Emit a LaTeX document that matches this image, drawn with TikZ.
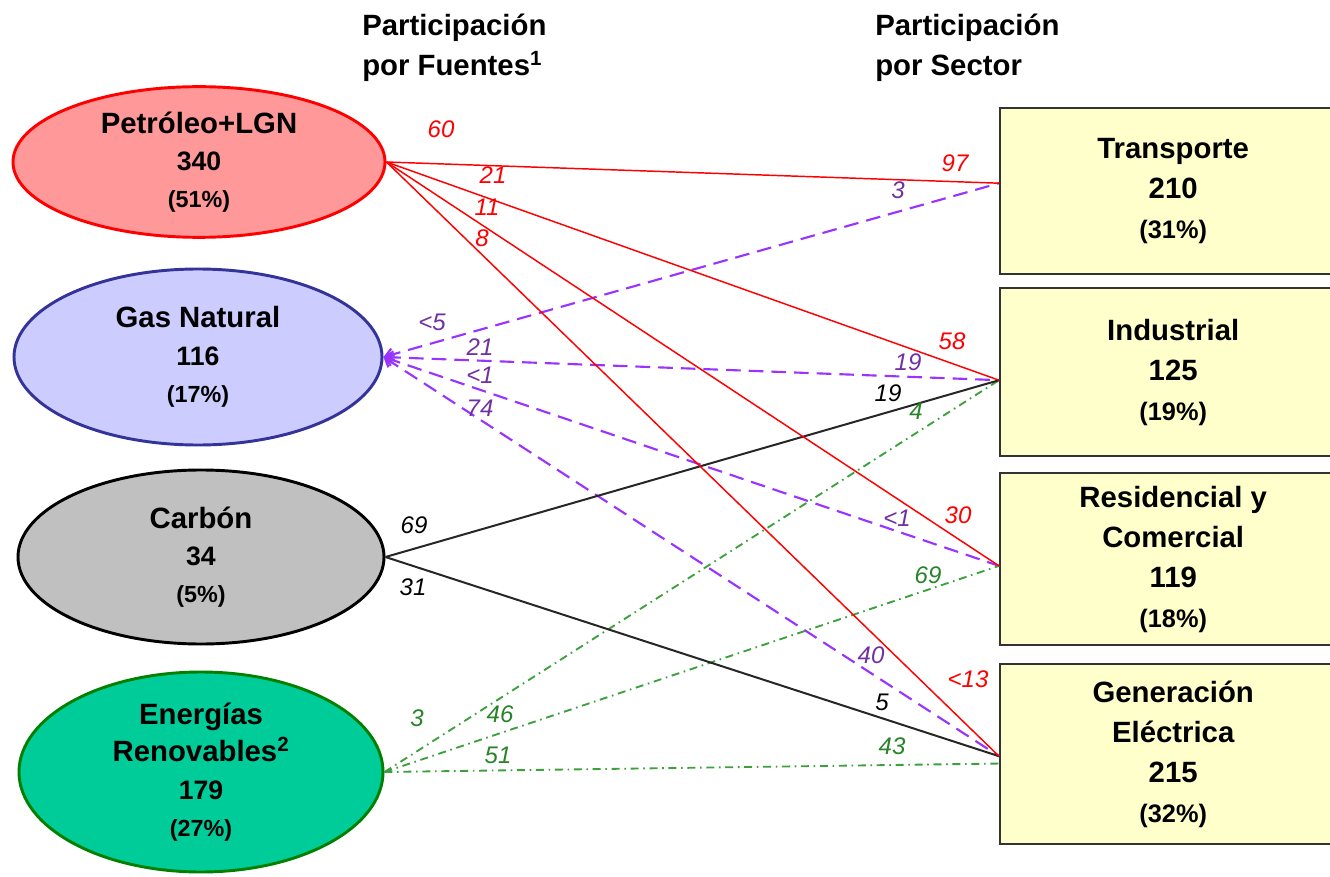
\documentclass[tikz,border=0pt]{standalone}
\usepackage{fontspec}
\setmainfont{Liberation Sans}
\usetikzlibrary{shapes.geometric,arrows.meta}

\definecolor{petfill}{RGB}{255,153,153}
\definecolor{gasfill}{RGB}{204,204,255}
\definecolor{gasedge}{RGB}{51,51,153}
\definecolor{carfill}{RGB}{192,192,192}
\definecolor{renfill}{RGB}{0,204,153}
\definecolor{renedge}{RGB}{0,128,0}
\definecolor{secfill}{RGB}{255,255,204}
\definecolor{gasline}{RGB}{153,51,255}
\definecolor{gaslbl}{RGB}{112,48,160}
\definecolor{renline}{RGB}{60,160,60}
\definecolor{renlbl}{RGB}{40,130,40}

\newcommand{\valor}[1]{{\fontsize{20}{28}\selectfont #1}}
\newcommand{\pct}[1]{{\fontsize{17.5}{28}\selectfont #1}}
\newcommand{\pcts}[1]{{\fontsize{19}{30}\selectfont #1}}

\begin{document}
\begin{tikzpicture}[x=0.75pt, y=-0.75pt,
    fuente/.style={ellipse, line width=2.2pt, inner sep=0pt, align=center, font=\fontsize{22}{28}\selectfont\bfseries},
    sector/.style={rectangle, draw=black!80, line width=1.8pt, fill=secfill, inner sep=0pt, align=center, anchor=north west, minimum width=259.5pt, font=\fontsize{22}{30}\selectfont\bfseries},
    titulo/.style={anchor=north west, inner sep=0pt, align=left, font=\fontsize{22}{30}\selectfont\bfseries},
    cifra/.style={inner sep=0pt, font=\fontsize{18}{20}\selectfont\itshape},
    petflow/.style={draw=red, line width=1.1pt},
    gasflow/.style={draw=gasline, line width=1.6pt, dash pattern=on 11pt off 6pt, {Straight Barb[length=6pt,width=9pt]}-},
    carflow/.style={draw=black!85, line width=1.5pt},
    renflow/.style={draw=renline, line width=1.4pt, dash pattern=on 6pt off 3.5pt on 1.2pt off 3.5pt},
]
\useasboundingbox (0,0) rectangle (1330,877);

\node[titulo] (hfue) at (362,14) {Participación\\por Fuentes\textsuperscript{1}};
\node[titulo] (hsec) at (875,14) {Participación\\por Sector};

\node[fuente, draw=red, fill=petfill, minimum width=279pt, minimum height=113pt] (pet) at (199,162) {Petróleo+LGN\\\valor{340}\\\pct{(51\%)}};
\node[fuente, draw=gasedge, fill=gasfill, minimum width=276pt, minimum height=132pt] (gas) at (198,357) {Gas Natural\\\valor{116}\\\pct{(17\%)}};
\node[fuente, draw=black, fill=carfill, minimum width=274.5pt, minimum height=130.5pt] (car) at (201,557) {Carbón\\\valor{34}\\\pct{(5\%)}};
\node[fuente, draw=renedge, fill=renfill, minimum width=273pt, minimum height=150pt] (ren) at (201,772) {Energías\\Renovables\textsuperscript{2}\\\valor{179}\\\pct{(27\%)}};

\node[sector, minimum height=124.5pt] (tra) at (999,107) {Transporte\\210\\\pcts{(31\%)}};
\node[sector, minimum height=126pt] (ind) at (999,287) {Industrial\\125\\\pcts{(19\%)}};
\node[sector, minimum height=129pt] (res) at (999,472) {Residencial y\\Comercial\\119\\\pcts{(18\%)}};
\node[sector, minimum height=135pt] (gen) at (999,663) {Generación\\Eléctrica\\215\\\pcts{(32\%)}};

\coordinate (traIn) at ([yshift=6pt]tra.west);
\coordinate (indIn) at ([yshift=-6pt]ind.west);
\coordinate (resIn) at ([yshift=-5pt]res.west);
\coordinate (genIn) at ([yshift=-1.5pt]gen.west);
\coordinate (genRen) at ([yshift=-7pt]gen.west);

\draw[gasflow] (gas.east) -- (traIn);
\draw[gasflow] (gas.east) -- (indIn);
\draw[gasflow] (gas.east) -- (resIn);
\draw[gasflow] (gas.east) -- (genIn);
\draw[renflow] (ren.east) -- (indIn);
\draw[renflow] (ren.east) -- (resIn);
\draw[renflow] (ren.east) -- (genRen);
\draw[carflow] (car.east) -- (indIn);
\draw[carflow] (car.east) -- (genIn);
\draw[petflow] (pet.east) -- (traIn);
\draw[petflow] (pet.east) -- (indIn);
\draw[petflow] (pet.east) -- (resIn);
\draw[petflow] (pet.east) -- (genIn);

\node[cifra, red] (p60) at (441,129) {60};
\node[cifra, red] (p21) at (493,175) {21};
\node[cifra, red] (p11) at (487,207) {11};
\node[cifra, red] (p8) at (482,238) {8};
\node[cifra, red] (p97) at (955,163) {97};
\node[cifra, red] (p58) at (952,341) {58};
\node[cifra, red] (p30) at (958,515) {30};
\node[cifra, red] (p13) at (968,679) {<13};

\node[cifra, gaslbl] (g5) at (432,322) {<5};
\node[cifra, gaslbl] (g21) at (480,347) {21};
\node[cifra, gaslbl] (g1) at (480,375) {<1};
\node[cifra, gaslbl] (g74) at (480,408) {74};
\node[cifra, gaslbl] (g3) at (898,190) {3};
\node[cifra, gaslbl] (g19) at (908,362) {19};
\node[cifra, gaslbl] (g1r) at (897,518) {<1};
\node[cifra, gaslbl] (g40) at (871,655) {40};

\node[cifra] (c69) at (414,525) {69};
\node[cifra] (c31) at (413,587) {31};
\node[cifra] (c19) at (888,393) {19};
\node[cifra] (c5) at (882,702) {5};

\node[cifra, renlbl] (r3) at (417,718) {3};
\node[cifra, renlbl] (r46) at (500,714) {46};
\node[cifra, renlbl] (r51) at (498,755) {51};
\node[cifra, renlbl] (r4) at (916,411) {4};
\node[cifra, renlbl] (r69) at (928,575) {69};
\node[cifra, renlbl] (r43) at (892,746) {43};
\end{tikzpicture}
\end{document}
